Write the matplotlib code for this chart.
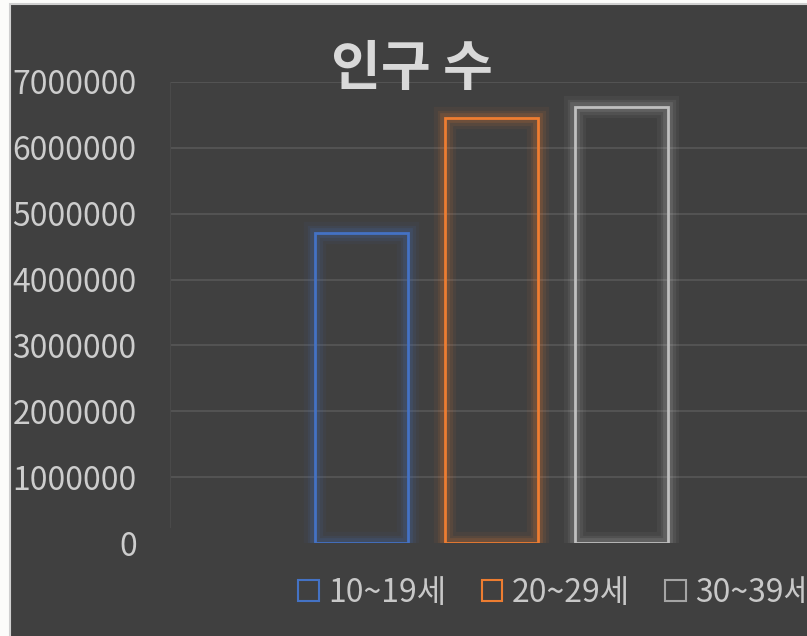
import matplotlib
matplotlib.use("Agg")
import matplotlib.pyplot as plt
import matplotlib.patheffects as pe
from matplotlib.patches import Rectangle, Patch

plt.rcParams['font.family'] = ['Noto Sans CJK KR', 'DejaVu Sans']

title = "인구 수"
series = ["10~19세", "20~29세", "30~39세"]
values = [4700000, 6460000, 6620000]
colors = ["#4472C4", "#ED7D31", "#BFBFBF"]
legend_colors = ["#4472C4", "#ED7D31", "#A5A5A5"]
yticks = [0, 1000000, 2000000, 3000000, 4000000, 5000000, 6000000, 7000000]
ytick_labels = [str(v) for v in yticks]

W, H = 807, 636
fig = plt.figure(figsize=(W / 100, H / 100), dpi=100, facecolor="#FCFCFA")

bg = Rectangle((10 / W, -0.01), 1.0, (H - 4) / H + 0.01, transform=fig.transFigure,
               facecolor="#404040", edgecolor="#D0D0D0", linewidth=1.5, zorder=-10)
fig.patches.append(bg)

ax = fig.add_axes([170 / W, (H - 543) / H, 643 / W, (543 - 82) / H])
ax.set_facecolor("none")
ax.set_ylim(0, 7000000)
ax.set_xlim(-2.473, 2.473)
ax.set_yticks(yticks)
ax.set_yticklabels(ytick_labels)
ax.set_xticks([])
ax.tick_params(axis='y', length=0, pad=24, labelsize=23, labelcolor="#CDCDCD")
ax.grid(axis='y', color="#575757", linewidth=1.2)
ax.get_ygridlines()[0].set_visible(False)
ax.set_axisbelow(True)
for s in ["top", "right", "bottom"]:
    ax.spines[s].set_visible(False)
ax.spines["left"].set_color("#4A4A4A")
ax.spines["left"].set_bounds(250000, 7000000)

positions = [-1, 0, 1]
for pos, val, col in zip(positions, values, colors):
    bars = ax.bar(pos, val, width=0.715, facecolor="none", edgecolor=col, linewidth=2.0, zorder=3)
    for b in bars:
        b.set_path_effects([
            pe.Stroke(linewidth=16, foreground=col, alpha=0.06),
            pe.Stroke(linewidth=11, foreground=col, alpha=0.09),
            pe.Stroke(linewidth=7, foreground=col, alpha=0.14),
            pe.Normal(),
        ])

fig.text(412 / W, (H - 70) / H, title, ha="center", va="center", fontsize=39,
         fontweight="bold", color="#D9D9D9")

handles = [Patch(facecolor="none", edgecolor=c, linewidth=1.5) for c in legend_colors]
leg = fig.legend(handles, series, loc="center left", bbox_to_anchor=(298 / W, (H - 593) / H),
                 ncol=3, frameon=False, fontsize=23, labelcolor="#C8C8C8",
                 handlelength=0.65, handleheight=0.65, handletextpad=0.3, columnspacing=1.1,
                 borderpad=0, borderaxespad=0)

fig.savefig("out.png", dpi=100, facecolor=fig.get_facecolor())
